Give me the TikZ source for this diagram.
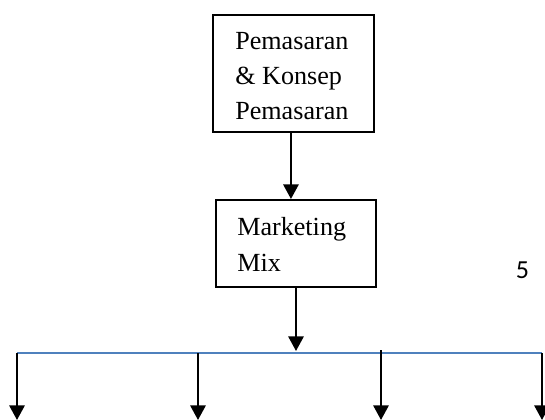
\documentclass[tikz,border=0pt]{standalone}
\usepackage{fontspec}
\setmainfont{Liberation Serif}
\newfontfamily\calibri{Carlito}
\usetikzlibrary{positioning,
        arrows.meta}
\definecolor{busblue}{RGB}{79,129,189}

\begin{document}
\begin{tikzpicture}[x=0.75pt,y=-0.75pt,
        box/.style={draw,line width=1.5pt,inner sep=0pt},
        boxtext/.style={align=left,inner sep=0pt,font=\fontsize{19.6}{26.6}\selectfont},
        arr/.style={line width=1.6pt,-{Triangle[width=11.5pt,length=11pt]}}]
            \useasboundingbox (0,0) rectangle (545,420);

            % boxes
            \node [box,minimum width=120.75pt,minimum height=87.75pt] (pemasaran) at (293.5,73.5) {};
            \node [boxtext,anchor=base west] (pemasaran text) at (235,120) {Pemasaran\\\& Konsep\\Pemasaran};
            \node [box,minimum width=120pt,minimum height=65.25pt] (mix) at (296,243.5) {};
            \node [boxtext,anchor=base west] (mix text) at (237,271) {Marketing\\Mix};
            \node [font=\calibri\fontsize{19.5}{22}\selectfont,inner sep=0pt,anchor=base] (page) at (522.5,278) {5};

            % bus line
            \coordinate (bus west) at (17,353);
            \coordinate (bus east) at (542,353);
            \coordinate (bus top) at (296,351);
            \draw [busblue,line width=1.1pt] (bus west) -- (bus east);

            \draw [arr] ([xshift=-1.9pt]pemasaran.south) -- ([xshift=-1.9pt]pemasaran.south |- mix.north);
            \draw [arr] (mix.south) -- (bus top);

            \foreach \x/\s [count=\i] in {17/353,198/353,381/350,542/353} {
                \coordinate (branch\i) at (\x,\s);
                \coordinate (leaf\i) at (\x,420);
                \draw [arr] (branch\i) -- (leaf\i);
            }
        \end{tikzpicture}
\end{document}
